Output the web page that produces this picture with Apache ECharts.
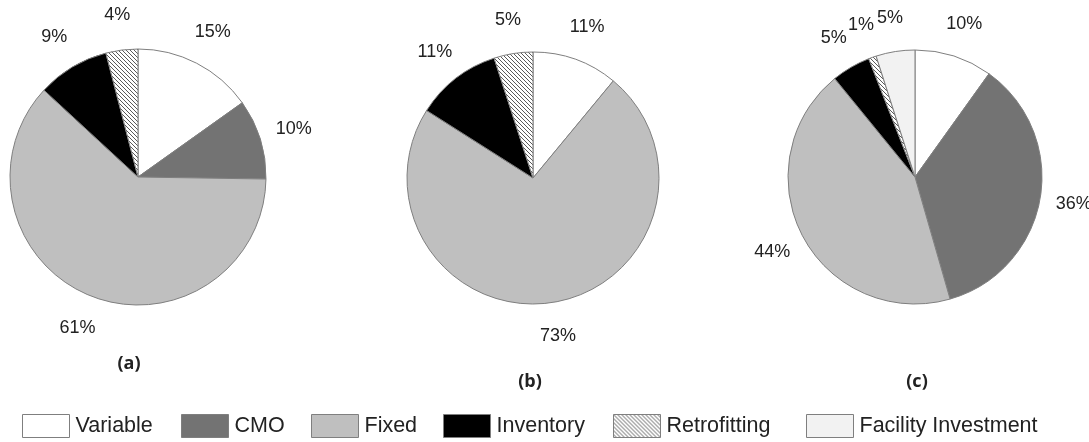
<!DOCTYPE html>
<html>
<head>
<meta charset="utf-8">
<script src="https://cdn.jsdelivr.net/npm/echarts@6/dist/echarts.min.js"></script>
<style>
html,body{margin:0;padding:0;background:#fff;}
#chart{width:1089px;height:442px;}
</style>
</head>
<body>
<div id="chart"></div>
<script>
// ---- data ----
const categories = ['Variable', 'CMO', 'Fixed', 'Inventory', 'Retrofitting', 'Facility Investment'];
const shareA = [15, 10, 61, 9, 4, 0];
const shareB = [11, 0, 73, 11, 5, 0];
const shareC = [10, 36, 44, 5, 1, 5];
const panelLabels = ['(a)', '(b)', '(c)'];

// ---- styles ----
function hatch() {
  const c = document.createElement('canvas');
  const s = 4;
  c.width = s; c.height = s;
  const g = c.getContext('2d');
  g.fillStyle = '#ffffff';
  g.fillRect(0, 0, s, s);
  g.strokeStyle = '#5a5a5a';
  g.lineWidth = 1;
  g.beginPath();
  g.moveTo(-1, -1); g.lineTo(s + 1, s + 1);
  g.moveTo(-1, s - 1); g.lineTo(1, s + 1);
  g.moveTo(s - 1, -1); g.lineTo(s + 1, 1);
  g.stroke();
  return c;
}
const fills = {
  'Variable': '#ffffff',
  'CMO': '#737373',
  'Fixed': '#bfbfbf',
  'Inventory': '#000000',
  'Retrofitting': { image: hatch(), repeat: 'repeat' },
  'Facility Investment': '#f2f2f2'
};
const panels = [
  { values: shareA, center: [138, 177], r: 128, labelR: 160, title: [124, 362] },
  { values: shareB, center: [533, 178], r: 126, labelR: 157, title: [525, 380] },
  { values: shareC, center: [915, 177], r: 127, labelR: 158, title: [912, 380] }
];
const legendLeft = [22, 181, 311, 443, 613, 806];

function pieData(values, styled) {
  const out = [];
  values.forEach((v, i) => {
    if (v > 0) {
      const item = { name: categories[i], value: v };
      if (styled) item.itemStyle = { color: fills[categories[i]] };
      out.push(item);
    }
  });
  return out;
}

const series = [];
panels.forEach(p => {
  series.push({
    type: 'pie',
    center: p.center,
    radius: [0, p.r],
    startAngle: 90,
    clockwise: true,
    silent: true,
    label: { show: false },
    labelLine: { show: false },
    itemStyle: { borderColor: '#7f7f7f', borderWidth: 1 },
    emphasis: { scale: false },
    data: pieData(p.values, true)
  });
});
panels.forEach(p => {
  series.push({
    type: 'pie',
    center: p.center,
    radius: [p.labelR - 16, p.labelR + 16],
    startAngle: 90,
    clockwise: true,
    silent: true,
    legendHoverLink: false,
    itemStyle: { color: 'rgba(0,0,0,0)', borderWidth: 0 },
    label: {
      show: true,
      position: 'inside',
      formatter: '{c}%',
      color: '#222',
      fontSize: 18,
      fontFamily: 'Liberation Sans'
    },
    labelLine: { show: false },
    emphasis: { scale: false },
    data: pieData(p.values, false)
  });
});

const titles = panels.map((p, i) => ({
  text: panelLabels[i],
  left: p.title[0],
  top: p.title[1] - 12,
  textAlign: 'center',
  textStyle: { fontFamily: 'Open Sans', fontWeight: 'bold', fontSize: 18, color: '#222' }
}));

const legends = categories.map((name, i) => ({
  data: [name],
  left: legendLeft[i],
  top: 414,
  icon: 'rect',
  itemWidth: 47,
  itemHeight: 23,
  padding: 0,
  selectedMode: false,
  itemStyle: { borderColor: '#7f7f7f', borderWidth: 1 },
  textStyle: { fontFamily: 'Liberation Sans', fontSize: 21.5, color: '#222', padding: [0, 0, 0, 1] }
}));

const chart = echarts.init(document.getElementById('chart'), null, { renderer: 'canvas' });
chart.setOption({
  animation: false,
  backgroundColor: '#ffffff',
  title: titles,
  legend: legends,
  series: series
});
</script>
</body>
</html>
